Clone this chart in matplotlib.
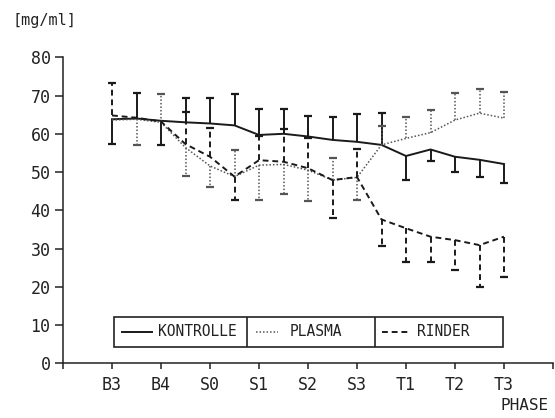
import matplotlib
matplotlib.use("Agg")
import matplotlib.pyplot as plt
from matplotlib.patches import Rectangle
import numpy as np

plt.rcParams['font.family'] = ['DejaVu Sans Mono']

# phase positions (half steps between B3 .. T3)
pos = [1, 1.5, 2, 2.5, 3, 3.5, 4, 4.5, 5, 5.5, 6, 6.5, 7, 7.5, 8, 8.5, 9]
phases = ['B3', 'B4', 'S0', 'S1', 'S2', 'S3', 'T1', 'T2', 'T3']
phase_pos = [1, 2, 3, 4, 5, 6, 7, 8, 9]

nan = np.nan
# means and end of the (one sided) error bars
kontrolle = [63.8, 64.0, 63.4, 63.0, 62.7, 62.2, 59.7, 60.0, 59.3, 58.4, 57.9, 57.1, 54.2, 55.9, 54.0, 53.2, 52.1]
kontrolle_err = [57.3, 70.7, 57.1, 69.3, 69.3, 70.3, 66.5, 66.5, 64.7, 64.5, 65.1, 65.4, 47.9, 53.0, 50.1, 48.6, 47.1]

plasma = [63.6, 63.8, 63.0, 56.4, 51.6, 48.8, 51.8, 52.0, 50.5, 47.9, 48.6, 57.1, 58.8, 60.3, 63.6, 65.4, 64.1]
plasma_err = [nan, 57.1, 70.4, 49.0, 46.0, 55.8, 42.8, 44.3, 42.5, 53.6, 42.7, 62.0, 64.3, 66.2, 70.6, 71.6, 70.8]

ringer = [64.8, 64.2, 63.2, 57.3, 54.0, 48.8, 53.1, 52.7, 51.0, 47.9, 48.7, 37.6, 35.3, 33.1, 32.2, 30.9, 33.1]
ringer_err = [73.4, nan, nan, 65.8, 61.5, 42.7, 59.5, 61.2, 59.0, 37.9, 55.9, 30.7, 26.6, 26.6, 24.5, 20.0, 22.6]

fig = plt.figure(figsize=(5.55, 4.18), dpi=100)
ax = fig.add_axes([63/555, 1-363.3/418, 490/555, 306/418])

styles = [
    (kontrolle, kontrolle_err, '-', 1.4, '#1a1a1a'),
    (plasma, plasma_err, (0, (1, 1.3)), 1.1, '#555555'),
    (ringer, ringer_err, (0, (3, 2)), 1.4, '#1a1a1a'),
]
for mean, err, ls, lw, col in styles:
    ax.plot(pos, mean, linestyle=ls, lw=lw, color=col, clip_on=False)
    ax.vlines(pos, mean, err, linestyles=ls, lw=lw, color=col)
    ax.plot(pos, err, marker='_', ms=5.5, mew=1.6, ls='none', color=col)

ax.set_xlim(0, 10)
ax.set_ylim(0, 80)
ax.spines['top'].set_visible(False)
ax.spines['right'].set_visible(False)
ax.spines['left'].set_bounds(0, 80)
for s in ['left', 'bottom']:
    ax.spines[s].set_linewidth(1.1)
    ax.spines[s].set_color('#222222')

ax.set_yticks(range(0, 81, 10))
ax.set_xticks([0] + phase_pos + [10])
ax.set_xticklabels([''] + phases + [''])
ax.tick_params(axis='y', length=6, width=1.1, pad=3, labelsize=12, colors='#222222')
ax.tick_params(axis='x', length=4, width=1.1, pad=5, labelsize=12, colors='#222222')

# legend box with three cells
ax.add_patch(Rectangle((1.05, 4.2), 7.92, 8.0, fill=False, lw=1.2, ec='#222222', clip_on=False))
ax.vlines([3.76, 6.36], 4.2, 12.2, lw=1.2, color='#222222')
ly = 8.2
ax.plot([1.2, 1.82], [ly, ly], '-', lw=1.4, color='#1a1a1a')
ax.text(1.94, ly, 'KONTROLLE', fontsize=10.5, va='center', color='#222222')
ax.plot([3.93, 4.38], [ly, ly], ls=(0, (1, 1.3)), lw=1.1, color='#555555')
ax.text(4.62, ly, 'PLASMA', fontsize=10.5, va='center', color='#222222')
ax.plot([6.5, 7.06], [ly, ly], ls=(0, (3, 2)), lw=1.4, color='#1a1a1a')
ax.text(7.22, ly, 'RINDER', fontsize=10.5, va='center', color='#222222')

fig.text(12/555, 1-21/418, '[mg/ml]', fontsize=11, va='center', ha='left', color='#222222')
fig.text(549/555, 1-406/418, 'PHASE', fontsize=11.5, va='center', ha='right', color='#222222')

fig.savefig('out.png', dpi=100)
